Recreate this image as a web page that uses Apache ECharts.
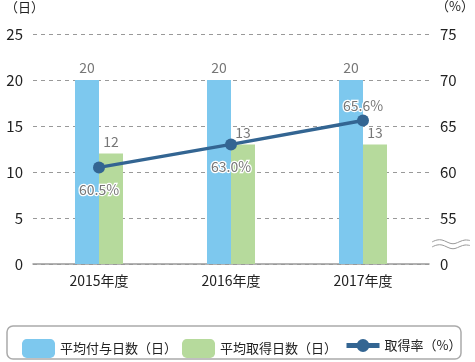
<!DOCTYPE html>
<html><head><meta charset="utf-8">
<script src="https://cdn.jsdelivr.net/npm/echarts@6/dist/echarts.min.js"></script>
<style>html,body{margin:0;padding:0;background:#fff}#c{width:475px;height:362px}</style>
</head><body><div id="c"></div>
<script>
var categories = ['2015年度', '2016年度', '2017年度'];
var grantedDays = [20, 20, 20];
var takenDays = [12, 13, 13];
var takeRate = [60.5, 63.0, 65.6];
var leftTicks = [0, 5, 10, 15, 20, 25];
var rightTicks = ['0', '55', '60', '65', '70', '75'];
var seriesNames = ['平均付与日数（日）', '平均取得日数（日）', '取得率（%）'];

var FONT = '"Noto Sans CJK JP", "Noto Sans", sans-serif';
function wave(y0) {
  return {type: 'polyline', shape: {points: [[432, y0], [437, y0 - 2], [442, y0 - 2], [447, y0], [451, y0 + 1.5], [455, y0 + 1.5], [460, y0 - 0.5], [465, y0 - 2], [470, y0 - 1.5]], smooth: 0.4},
    style: {stroke: '#999', fill: null, lineWidth: 1}};
}
function leg(name, left, extra) {
  var o = {
    left: left, top: 334, itemWidth: 33, itemHeight: 19, itemGap: 0,
    textStyle: {fontSize: 13, color: '#222', fontFamily: FONT},
    data: [name]
  };
  if (extra) { for (var k in extra) o[k] = extra[k]; }
  return o;
}
var chart = echarts.init(document.getElementById('c'));
chart.setOption({
  animation: false,
  textStyle: {fontFamily: FONT},
  grid: {left: 33, right: 46, top: 34, bottom: 98},
  legend: [leg(seriesNames[0], 17), leg(seriesNames[1], 177),
    leg(seriesNames[2], 339, {lineStyle: {width: 5}, itemHeight: 16})],
  xAxis: {
    type: 'category', data: categories,
    axisLine: {lineStyle: {color: '#999', width: 1.5}},
    axisTick: {show: false},
    axisLabel: {fontSize: 14, color: '#222', margin: 10, fontFamily: FONT}
  },
  yAxis: [{
    type: 'value', min: 0, max: 25, interval: 5,
    axisLine: {show: false}, axisTick: {show: false},
    axisLabel: {fontSize: 15, color: '#222', margin: 10, fontFamily: FONT,
      formatter: function (v) { return String(leftTicks[Math.round(v / 5)]); }},
    splitLine: {lineStyle: {color: '#999', type: [4, 4], width: 1}}
  }, {
    type: 'value', min: 50, max: 75, interval: 5,
    axisLine: {show: false}, axisTick: {show: false},
    axisLabel: {fontSize: 15, color: '#222', margin: 11, fontFamily: FONT,
      formatter: function (v) { return rightTicks[Math.round((v - 50) / 5)]; }},
    splitLine: {show: false}
  }],
  series: [{
    name: seriesNames[0], type: 'bar', data: grantedDays,
    barWidth: 24, barGap: '0%',
    itemStyle: {color: '#7DC8EE'},
    label: {show: true, position: 'top', distance: 5, fontSize: 14, color: '#777', fontFamily: FONT}
  }, {
    name: seriesNames[1], type: 'bar', data: takenDays,
    barWidth: 24,
    itemStyle: {color: '#B6DA9C'},
    label: {show: true, position: 'top', distance: 5, fontSize: 14, color: '#777', fontFamily: FONT}
  }, {
    name: seriesNames[2], type: 'line', yAxisIndex: 1,
    data: takeRate.map(function (v, i) {
      return i === 2 ? {value: v, label: {position: 'top', distance: 2}} : v;
    }),
    symbol: 'circle', symbolSize: 12,
    lineStyle: {color: '#336592', width: 3.5},
    itemStyle: {color: '#336592'},
    z: 5,
    label: {
      show: true, fontSize: 14, color: '#777', fontFamily: FONT,
      textBorderColor: '#fff', textBorderWidth: 2.5,
      formatter: function (p) { return Number(p.value).toFixed(1) + '%'; },
      position: 'bottom', distance: 9
    }
  }],
  graphic: [
    {type: 'text', left: 5, top: 1, style: {text: '（日）', fontSize: 13, fill: '#222', fontFamily: FONT}},
    {type: 'text', left: 436, top: 0, style: {text: '（%）', fontSize: 13, fill: '#222', fontFamily: FONT}},
    wave(242), wave(247),
    {type: 'rect', shape: {x: 7, y: 326, width: 454, height: 33, r: 6},
      style: {stroke: '#aaa', fill: null, lineWidth: 1.5}, z: -1}
  ]
});
</script>
</body></html>
